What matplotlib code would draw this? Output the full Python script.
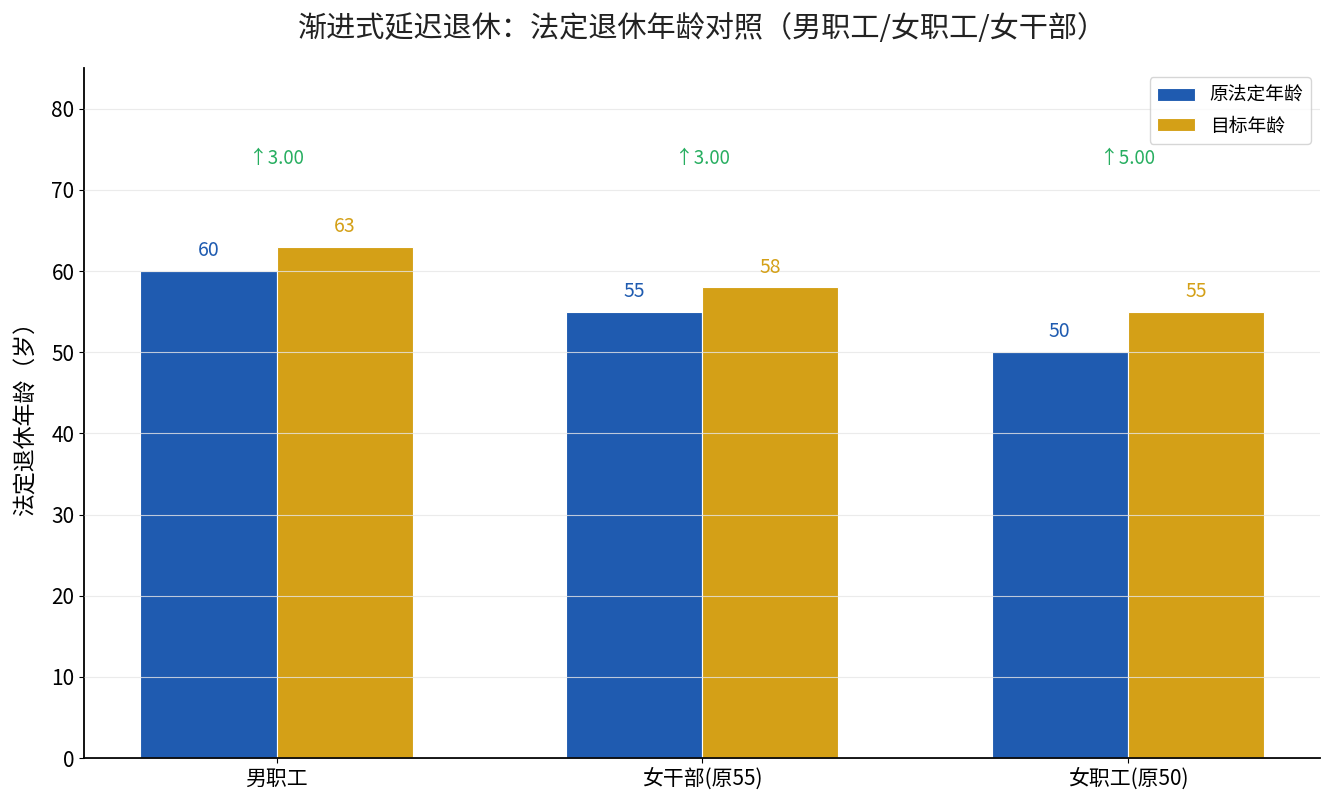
import matplotlib
matplotlib.use("Agg")
import matplotlib.pyplot as plt
import numpy as np

plt.rcParams['font.family'] = ['Noto Sans CJK SC', 'DejaVu Sans']
plt.rcParams['axes.unicode_minus'] = False

# 数据
类别 = ["男职工", "女干部(原55)", "女职工(原50)"]
原法定年龄 = [60, 55, 50]
目标年龄 = [63, 58, 55]
提高 = [3.0, 3.0, 5.0]

蓝色 = "#1f5bb0"
金色 = "#d4a017"
绿色 = "#27ae60"

fig, ax = plt.subplots(figsize=(13.35, 8.1), dpi=100)

x = np.arange(len(类别))
宽 = 0.32

b1 = ax.bar(x - 宽 / 2, 原法定年龄, 宽, color=蓝色, edgecolor="white", linewidth=0.8, label="原法定年龄")
b2 = ax.bar(x + 宽 / 2, 目标年龄, 宽, color=金色, edgecolor="white", linewidth=0.8, label="目标年龄")

for rect, v in zip(b1, 原法定年龄):
    ax.annotate(f"{v}", (rect.get_x() + rect.get_width() / 2, v), xytext=(0, 7),
                textcoords="offset points", ha="center", va="bottom", fontsize=14, color=蓝色)
for rect, v in zip(b2, 目标年龄):
    ax.annotate(f"{v}", (rect.get_x() + rect.get_width() / 2, v), xytext=(0, 7),
                textcoords="offset points", ha="center", va="bottom", fontsize=14, color=金色)

for i, d in enumerate(提高):
    ax.text(x[i], 73.8, f"↑{d:.2f}", ha="center", va="center", fontsize=13.5, color=绿色)

ax.set_ylim(0, 85)
ax.set_xticks(x)
ax.set_xticklabels(类别, fontsize=15)
ax.tick_params(axis="both", labelsize=15)
ax.set_ylabel("法定退休年龄（岁）", fontsize=16.5, labelpad=10)
ax.set_title("渐进式延迟退休：法定退休年龄对照（男职工/女职工/女干部）", fontsize=21, pad=22,
             color="#222222")

ax.grid(axis="y", color="#e6e6e6", linewidth=0.8, alpha=0.8)
ax.set_axisbelow(False)
ax.spines["top"].set_visible(False)
ax.spines["right"].set_visible(False)
ax.spines["left"].set_linewidth(1.3)
ax.spines["bottom"].set_linewidth(1.3)

ax.legend(loc="upper right", fontsize=13.5)

plt.subplots_adjust(left=0.063, right=0.989, top=0.916, bottom=0.064)
plt.savefig("out.png", dpi=100)
